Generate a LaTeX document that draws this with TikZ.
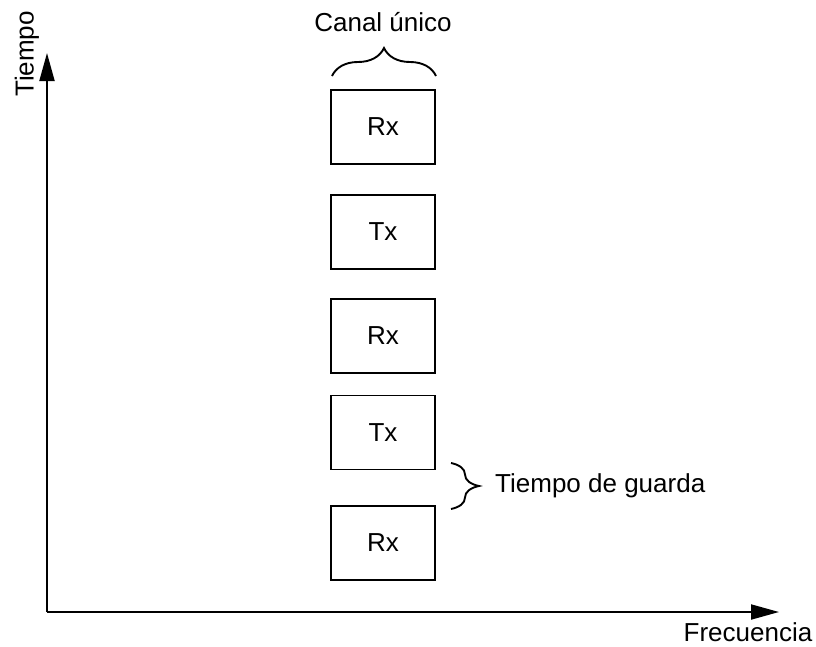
\documentclass[tikz,border=0pt]{standalone}
\usepackage{fontspec}
\setmainfont{Liberation Sans}
\usetikzlibrary{arrows.meta,decorations.pathreplacing}
\begin{document}
\begin{tikzpicture}[x=1pt,y=-1pt,
  every node/.style={font=\fontsize{26}{30}\selectfont},
  slot/.style={draw,line width=1.9pt,minimum width=104pt,minimum height=74pt,inner sep=0pt},
  axis/.style={line width=1.9pt,-{Triangle[length=28pt,width=15pt]}},
  curly/.style={line width=1.9pt,decorate,decoration={brace,amplitude=28pt}}]
  \useasboundingbox (0,0) rectangle (816,646);
  % axes
  \coordinate (o) at (47,612);
  \coordinate (ytop) at (47,53);
  \coordinate (xend) at (779,612);
  \draw[axis] (o) -- (ytop);
  \draw[axis] (o) -- (xend);
  \node[rotate=90,inner sep=0pt] (ylab) at (27,54) {Tiempo};
  \node[inner sep=0pt] (xlab) at (748,632) {Frecuencia};
  % time slots of the single channel
  \node[slot] (s1) at (383,127) {Rx};
  \node[slot] (s2) at (383,232) {Tx};
  \node[slot] (s3) at (383,336) {Rx};
  \node[slot] (s4) at (383,432.5) {Tx};
  \node[slot] (s5) at (383,543) {Rx};
  % channel brace
  \coordinate (cb1) at (332,76);
  \coordinate (cb2) at (436,76);
  \draw[curly] (cb1) -- (cb2);
  \node[inner sep=0pt] (canal) at (383,22) {Canal único};
  % guard time brace
  \coordinate (gb1) at (451,463);
  \coordinate (gb2) at (451,509);
  \draw[curly] (gb1) -- (gb2);
  \node[anchor=west,inner sep=0pt] (guard) at (495,486) {Tiempo de guarda};
\end{tikzpicture}
\end{document}
